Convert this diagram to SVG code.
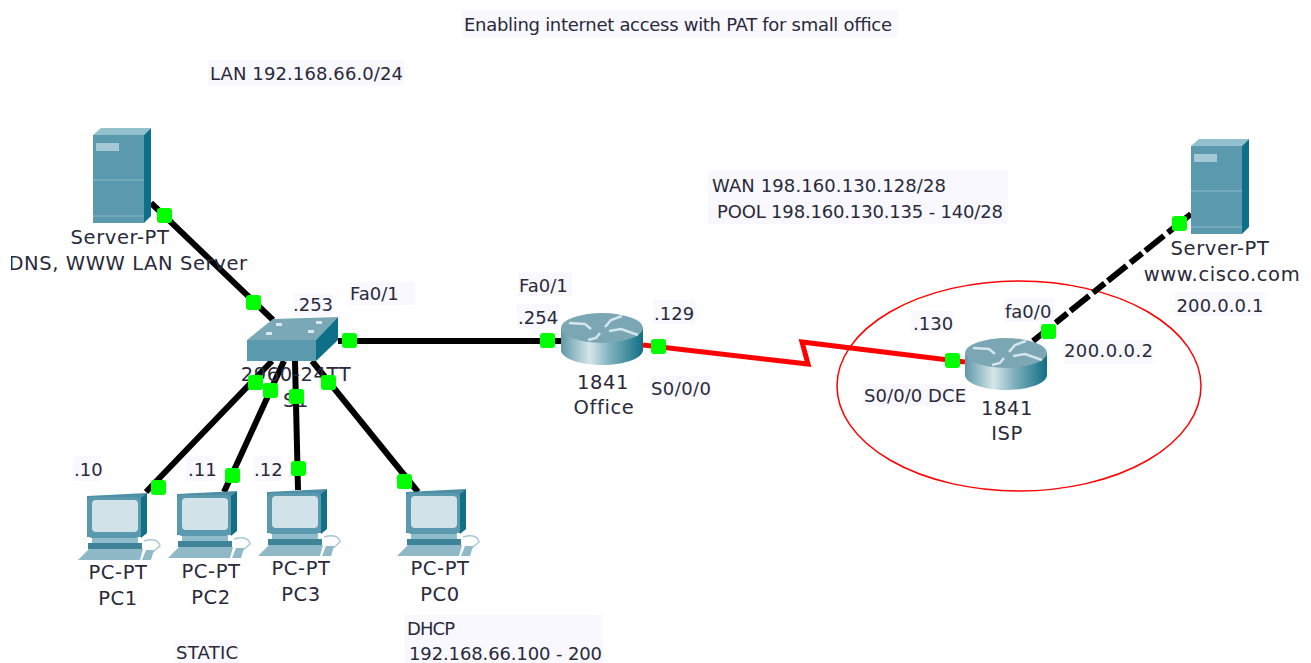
<svg xmlns="http://www.w3.org/2000/svg" width="1311" height="663" viewBox="0 0 1311 663">
<style>
text{font-family:"DejaVu Sans","Noto Sans",sans-serif;font-size:18px;fill:#2a2a3a;text-anchor:middle}
.n{font-size:19.5px;letter-spacing:.6px}
.s{font-size:18px;text-anchor:start;transform:translateY(1px)}
.bg{fill:#f8f8fe}
.eth{fill:none;stroke:#000;stroke-width:6}
.ser{fill:none;stroke:#f00;stroke-width:5;stroke-linejoin:miter}
.dash{stroke-width:6;stroke-dasharray:24 5 15 4}
.pt{fill:#0f0}
</style>
<defs>
<linearGradient id="rg" x1="0" x2="1" y1="0" y2="0"><stop offset="0" stop-color="#5f98a8"/><stop offset=".35" stop-color="#d5e6ea"/><stop offset=".6" stop-color="#7fb0bd"/><stop offset="1" stop-color="#116f86"/></linearGradient>
<clipPath id="cl"><rect x="11" y="245" width="300" height="40"/></clipPath>
<symbol id="server" width="58" height="96" viewBox="0 0 58 96" overflow="visible">
<path d="M0 7L8 0H58L51 7Z" fill="#93c0cd"/>
<path d="M51 7L58 0V88L51 95Z" fill="#0e7088"/>
<rect y="7" width="51" height="88" fill="#5a99ae"/>
<rect x="3" y="15" width="23" height="8" fill="#a5c8d4"/>
<rect y="51" width="51" height="2" fill="#72a8bb"/>
<rect y="87" width="51" height="2" fill="#72a8bb"/>
</symbol>
<symbol id="router" width="82" height="52" viewBox="0 0 82 52" overflow="visible">
<path d="M0 15V37C0 45 18 52 41 52S82 45 82 37V15Z" fill="url(#rg)"/>
<ellipse cx="41" cy="15" rx="41" ry="15" fill="#7ba6b4"/>
<g fill="none" stroke="#d4e6ea" stroke-width="2.5"><path d="M8 10L24 11L30 16"/><path d="M44 14L50 7L61 3"/><path d="M48 18L60 16L77 22"/><path d="M27 27L35 25L39 20"/></g>
</symbol>
<symbol id="pc" width="84" height="70" viewBox="0 0 84 70" overflow="visible">
<path d="M9 4L69 1L64 6V45H9Z" fill="#4e8fa5"/>
<path d="M63 6L69 1V41L63 46Z" fill="#116f86"/>
<rect x="9" y="5" width="54" height="41" rx="5" fill="#5a99ae"/>
<rect x="14" y="8" width="46" height="32" rx="4" fill="#d2e2e9"/>
<rect x="14" y="46" width="46" height="5" fill="#8fbccb"/>
<rect x="10" y="51" width="54" height="6" fill="#3e8398"/>
<path d="M11 57H65L62 68H0Z" fill="#8fb9c7"/>
<path d="M66 49Q80 45 82 54L75 60" fill="none" stroke="#a5c8d4" stroke-width="1.5"/>
<path d="M68 58H76L73 68H64Z" fill="#8fb9c7"/>
</symbol>
<symbol id="sw" width="92" height="45" viewBox="0 0 92 45" overflow="visible">
<path d="M0 23L26 2L91 0L69 23Z" fill="#7ba8b7"/>
<path d="M69 23L91 0V23L69 44Z" fill="#0e7088"/>
<rect y="23" width="69" height="21" fill="#5a99ae"/>
<g fill="#d8e8ec"><rect x="29" y="6" width="6" height="3"/><rect x="69" y="4" width="6" height="3"/><rect x="19" y="15" width="6" height="3"/><rect x="61" y="13" width="6" height="3"/></g>
</symbol>
</defs>
<rect width="1311" height="663" fill="#fff"/>

<g id="annotations">
<rect class="bg" x="462" y="10" width="436" height="27"/>
<text class="s" x="464" y="30" textLength="428">Enabling internet access with PAT for small office</text>
<rect class="bg" x="208" y="60" width="196" height="26"/>
<text class="s" x="210" y="79" textLength="193">LAN 192.168.66.0/24</text>
<rect class="bg" x="708" y="170" width="300" height="54"/>
<text class="s" x="712" y="191" textLength="234">WAN 198.160.130.128/28</text>
<text class="s" x="717" y="217" textLength="286">POOL 198.160.130.135 - 140/28</text>
<rect class="bg" x="175" y="640" width="64" height="23"/>
<text class="s" x="176" y="658" textLength="62">STATIC</text>
<rect class="bg" x="405" y="615" width="198" height="48"/>
<text class="s" x="407" y="634" textLength="48">DHCP</text>
<text class="s" x="409" y="659" textLength="193">192.168.66.100 - 200</text>
<ellipse cx="1019" cy="386" rx="182" ry="105" fill="none" stroke="#f00" stroke-width="1.5"/>
</g>

<g id="connectors">
<path class="eth" d="M151 203L273 320"/>
<path class="eth" d="M338 341H562"/>
<path class="eth" d="M272 361L146 492"/>
<path class="eth" d="M284 361L224 492"/>
<path class="eth" d="M295 361L298 490"/>
<path class="eth" d="M312 361L418 492"/>
<path class="ser" d="M643 345L808 364L802 342L965 362"/>
<path class="eth dash" d="M1033 341L1191 214"/>
<g class="pt">
<rect x="157" y="208" width="15" height="15" rx="3"/><rect x="246" y="295" width="15" height="15" rx="3"/>
<rect x="342" y="333" width="15" height="15" rx="3"/><rect x="540" y="333" width="15" height="15" rx="3"/>
<rect x="651" y="339" width="15" height="15" rx="3"/><rect x="945" y="353" width="15" height="15" rx="3"/>
<rect x="1041" y="324" width="15" height="15" rx="3"/><rect x="1172" y="216" width="15" height="15" rx="3"/>
<rect x="151" y="480" width="15" height="15" rx="3"/><rect x="225" y="468" width="15" height="15" rx="3"/>
<rect x="291" y="461" width="15" height="15" rx="3"/><rect x="397" y="474" width="15" height="15" rx="3"/>
</g>
</g>

<g id="server-lan"><use href="#server" x="93" y="128"/>
<text class="n" x="120" y="244">Server-PT</text>
<text class="n" clip-path="url(#cl)" x="128" y="270">DNS, WWW LAN Server</text></g>

<g id="switch-s1"><use href="#sw" x="247" y="317"/>
<rect class="bg" x="293" y="293" width="40" height="23"/>
<text x="313" y="311">.253</text>
<rect class="bg" x="349" y="282" width="66" height="23"/>
<text class="s" x="350" y="299">Fa0/1</text>
<text class="n" x="296" y="381">2960-24TT</text>
<text class="n" x="296" y="407">S1</text>
<g class="pt"><rect x="248" y="375" width="15" height="15" rx="3"/><rect x="263" y="383" width="15" height="15" rx="3"/>
<rect x="289" y="389" width="15" height="15" rx="3"/><rect x="321" y="375" width="15" height="15" rx="3"/></g></g>

<g id="router-office"><use href="#router" x="561" y="313"/>
<rect class="bg" x="518" y="272" width="54" height="24"/>
<text class="s" x="519" y="291">Fa0/1</text>
<rect class="bg" x="517" y="304" width="42" height="24"/>
<text class="s" x="518" y="323">.254</text>
<rect class="bg" x="653" y="300" width="42" height="24"/>
<text class="s" x="654" y="319">.129</text>
<rect class="bg" x="651" y="376" width="60" height="24"/>
<text class="s" x="651" y="394" textLength="60">S0/0/0</text>
<text class="n" x="603" y="389">1841</text>
<text class="n" x="604" y="414">Office</text></g>

<g id="router-isp"><use href="#router" x="965" y="338"/>
<rect class="bg" x="911" y="311" width="42" height="22"/>
<text class="s" x="913" y="329">.130</text>
<rect class="bg" x="1004" y="298" width="50" height="24"/>
<text class="s" x="1005" y="317">fa0/0</text>
<rect class="bg" x="1063" y="340" width="90" height="24"/>
<text class="s" x="1064" y="356" textLength="89">200.0.0.2</text>
<rect class="bg" x="863" y="384" width="104" height="22"/>
<text class="s" x="864" y="401" textLength="102">S0/0/0 DCE</text>
<text class="n" x="1007" y="415">1841</text>
<text class="n" x="1007" y="440">ISP</text></g>

<g id="server-web"><use href="#server" x="1191" y="139"/>
<text class="n" x="1220" y="255">Server-PT</text>
<text class="n" x="1222" y="281">www.cisco.com</text>
<rect class="bg" x="1175" y="292" width="90" height="24"/>
<text x="1220" y="312" textLength="87">200.0.0.1</text></g>

<g id="pc1"><use href="#pc" x="78" y="492"/>
<rect class="bg" x="73" y="456" width="28" height="25"/>
<text class="s" x="74" y="475">.10</text>
<text class="n" x="118" y="579">PC-PT</text><text class="n" x="118" y="605">PC1</text></g>
<g id="pc2"><use href="#pc" x="168" y="490"/>
<rect class="bg" x="186" y="456" width="28" height="25"/>
<text class="s" x="188" y="475">.11</text>
<text class="n" x="211" y="578">PC-PT</text><text class="n" x="211" y="604">PC2</text></g>
<g id="pc3"><use href="#pc" x="258" y="488"/>
<rect class="bg" x="254" y="456" width="28" height="25"/>
<text class="s" x="254" y="475">.12</text>
<text class="n" x="301" y="575">PC-PT</text><text class="n" x="301" y="601">PC3</text></g>
<g id="pc0"><use href="#pc" x="397" y="488"/>
<text class="n" x="440" y="575">PC-PT</text><text class="n" x="440" y="601">PC0</text></g>
</svg>
